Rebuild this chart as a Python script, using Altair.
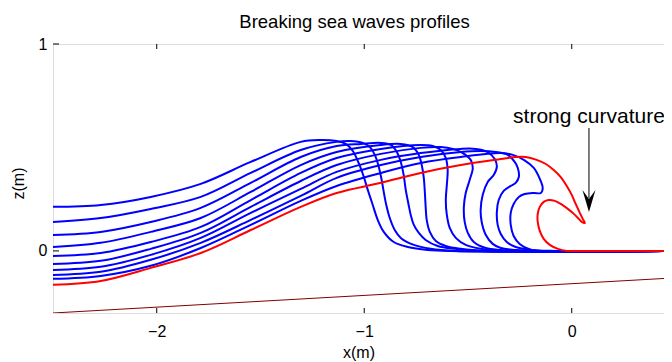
import altair as alt
import pandas as pd

# ---- data (x in m, z in m) ----
b1_x = [-2.5, -2.270, -2.029, -1.788, -1.547, -1.306, -1.210, -1.133, -1.089, -1.055, -1.027, -1.002, -0.983, -0.959, -0.935, -0.906, -0.858, -0.790, -0.694, -0.583, 0.5]
b1_z = [0.213, 0.222, 0.261, 0.324, 0.430, 0.527, 0.536, 0.531, 0.517, 0.483, 0.425, 0.357, 0.295, 0.222, 0.150, 0.092, 0.043, 0.019, 0.005, 0.0, 0.0]

b2_x = [-2.5, -2.270, -2.029, -1.788, -1.547, -1.306, -1.133, -1.065, -1.007, -0.973, -0.949, -0.930, -0.916, -0.906, -0.896, -0.877, -0.853, -0.824, -0.761, -0.680, -0.559, 0.5]
b2_z = [0.140, 0.159, 0.203, 0.261, 0.377, 0.488, 0.527, 0.531, 0.522, 0.502, 0.464, 0.406, 0.343, 0.285, 0.232, 0.159, 0.101, 0.063, 0.029, 0.010, 0.0, 0.0]

b3_x = [-2.5, -2.270, -2.029, -1.788, -1.547, -1.306, -1.133, -1.017, -0.920, -0.872, -0.843, -0.824, -0.810, -0.800, -0.786, -0.776, -0.761, -0.737, -0.704, -0.646, -0.559, -0.439, 0.5]
b3_z = [0.077, 0.092, 0.140, 0.208, 0.329, 0.454, 0.507, 0.517, 0.522, 0.512, 0.478, 0.430, 0.367, 0.295, 0.222, 0.174, 0.126, 0.087, 0.053, 0.024, 0.010, 0.0, 0.0]

b4_x = [-2.5, -2.270, -2.029, -1.788, -1.547, -1.306, -1.133, -0.920, -0.824, -0.766, -0.737, -0.723, -0.713, -0.708, -0.704, -0.699, -0.684, -0.655, -0.607, -0.535, -0.414, 0.5]
b4_z = [0.019, 0.039, 0.092, 0.159, 0.285, 0.415, 0.478, 0.512, 0.517, 0.502, 0.464, 0.415, 0.353, 0.285, 0.213, 0.150, 0.092, 0.048, 0.024, 0.010, 0.0, 0.0]

b5_x = [-2.5, -2.270, -2.029, -1.788, -1.547, -1.306, -1.133, -0.920, -0.728, -0.670, -0.631, -0.607, -0.598, -0.602, -0.607, -0.602, -0.588, -0.559, -0.511, -0.439, -0.318, 0.5]
b5_z = [-0.024, -0.010, 0.043, 0.116, 0.246, 0.377, 0.449, 0.493, 0.512, 0.507, 0.488, 0.449, 0.391, 0.319, 0.246, 0.174, 0.111, 0.063, 0.029, 0.010, 0.0, 0.0]

b6_x = [-2.5, -2.270, -2.029, -1.788, -1.547, -1.306, -1.133, -0.920, -0.728, -0.631, -0.573, -0.525, -0.487, -0.477, -0.492, -0.511, -0.520, -0.516, -0.501, -0.472, -0.414, -0.342, -0.222, 0.5]
b6_z = [-0.063, -0.048, 0.010, 0.087, 0.213, 0.338, 0.415, 0.469, 0.498, 0.502, 0.493, 0.473, 0.440, 0.401, 0.343, 0.280, 0.213, 0.140, 0.087, 0.043, 0.014, 0.005, 0.0, 0.0]

b7_x = [-2.5, -2.270, -2.029, -1.788, -1.547, -1.306, -1.133, -0.920, -0.728, -0.535, -0.463, -0.405, -0.371, -0.361, -0.376, -0.405, -0.429, -0.439, -0.434, -0.414, -0.381, -0.342, -0.270, -0.149, 0.5]
b7_z = [-0.092, -0.077, -0.019, 0.063, 0.184, 0.300, 0.382, 0.440, 0.473, 0.493, 0.493, 0.478, 0.444, 0.406, 0.367, 0.333, 0.271, 0.198, 0.140, 0.077, 0.034, 0.014, 0.005, 0.0, 0.0]

b8_x = [-2.5, -2.270, -2.029, -1.788, -1.547, -1.306, -1.133, -0.920, -0.728, -0.535, -0.439, -0.366, -0.308, -0.275, -0.260, -0.255, -0.270, -0.294, -0.328, -0.352, -0.361, -0.357, -0.342, -0.313, -0.270, -0.198, -0.077, 0.5]
b8_z = [-0.116, -0.101, -0.043, 0.039, 0.150, 0.266, 0.353, 0.415, 0.454, 0.478, 0.483, 0.478, 0.464, 0.430, 0.401, 0.357, 0.329, 0.314, 0.290, 0.246, 0.188, 0.126, 0.082, 0.043, 0.019, 0.005, 0.0, 0.0]

b9_x = [-2.5, -2.270, -2.029, -1.788, -1.547, -1.306, -1.133, -0.920, -0.728, -0.535, -0.342, -0.284, -0.231, -0.183, -0.154, -0.140, -0.149, -0.183, -0.227, -0.255, -0.280, -0.294, -0.294, -0.280, -0.251, -0.207, -0.149, 0.5]
b9_z = [-0.135, -0.121, -0.072, 0.014, 0.126, 0.242, 0.314, 0.377, 0.425, 0.454, 0.473, 0.464, 0.440, 0.401, 0.348, 0.304, 0.280, 0.280, 0.275, 0.261, 0.227, 0.184, 0.126, 0.072, 0.034, 0.010, 0.0, 0.0]

red_x = [-2.5, -2.270, -2.029, -1.788, -1.547, -1.306, -1.133, -0.920, -0.728, -0.535, -0.342, -0.270, -0.222, -0.169, -0.125, -0.087, -0.053, -0.024, 0.0, 0.019, 0.039, 0.053, 0.063, 0.048, 0.034, 0.010, -0.019, -0.053, -0.082, -0.111, -0.135, -0.154, -0.164, -0.164, -0.154, -0.135, -0.106, -0.067, -0.024, 0.034, 0.5]
red_z = [-0.164, -0.145, -0.082, -0.010, 0.101, 0.213, 0.280, 0.329, 0.377, 0.415, 0.444, 0.454, 0.454, 0.440, 0.420, 0.391, 0.357, 0.314, 0.271, 0.227, 0.184, 0.155, 0.135, 0.140, 0.155, 0.179, 0.203, 0.227, 0.242, 0.246, 0.237, 0.213, 0.179, 0.140, 0.097, 0.058, 0.029, 0.010, 0.0, 0.0, 0.0]

bed_x = [-2.5, 0.5]
bed_z = [-0.30, -0.13]

x_ticks = [-2, -1, 0]
y_ticks = [0, 1]

note_text = "strong curvature"
note_x = 0.083
note_z = 0.618
arrow_top = 0.594
arrow_notch = 0.255
arrow_head_center = 0.2415

# ---- tables ----
blue_sets = [b1_x, b1_z], [b2_x, b2_z], [b3_x, b3_z], [b4_x, b4_z], [b5_x, b5_z], \
            [b6_x, b6_z], [b7_x, b7_z], [b8_x, b8_z], [b9_x, b9_z]
rows = []
for k, (xs, zs) in enumerate(blue_sets):
    for i, (xv, zv) in enumerate(zip(xs, zs)):
        rows.append({"curve": f"b{k+1}", "x": xv, "z": zv, "o": i})
blue_df = pd.DataFrame(rows)
red_df = pd.DataFrame({"x": red_x, "z": red_z, "o": list(range(len(red_x)))})
bed_df = pd.DataFrame({"x": bed_x, "z": bed_z})
xt_df = pd.DataFrame({"t": x_ticks})
yt_df = pd.DataFrame({"t": y_ticks})
note_df = pd.DataFrame({"x": [note_x], "z": [note_z], "label": [note_text]})
arrow_df = pd.DataFrame({"x": [note_x], "z": [arrow_top], "z2": [arrow_notch]})
head_df = pd.DataFrame({"x": [note_x], "z": [arrow_head_center]})

# plot area: 611 px wide (page x 53..664), 269 px tall (page y 44..313)
W, H = 611, 269
FONT = "Liberation Sans"
xscale = alt.Scale(domain=[-2.5, 0.4446], nice=False, zero=False)
yscale = alt.Scale(domain=[-0.3, 1.0], nice=False, zero=False)

xaxis = alt.Axis(values=x_ticks, format="d", title="x(m)", ticks=False, grid=False, domain=False,
                 labelFontSize=16, titleFontSize=16, labelPadding=10, titlePadding=5,
                 titleFontWeight="normal", labelFont=FONT, titleFont=FONT,
                 labelColor="black", titleColor="black")
yaxis = alt.Axis(values=y_ticks, format="d", title="z(m)", ticks=False, grid=False, domain=False,
                 labelFontSize=16, titleFontSize=16, labelPadding=6,
                 titleX=-35, titleY=139, titleAngle=270, titleAlign="center",
                 titleBaseline="middle",
                 titleFontWeight="normal", labelFont=FONT, titleFont=FONT,
                 labelColor="black", titleColor="black")

X = alt.X("x:Q", scale=xscale, axis=xaxis)
Y = alt.Y("z:Q", scale=yscale, axis=yaxis)

bed = alt.Chart(bed_df).mark_line(color="#800000", strokeWidth=1, clip=True).encode(x=X, y=Y)

blue = alt.Chart(blue_df).mark_line(color="#0000ff", strokeWidth=2, interpolate="catmull-rom",
                                     clip=True).encode(
    x=X, y=Y, detail="curve:N", order="o:Q")

red = alt.Chart(red_df).mark_line(color="#ff0000", strokeWidth=2, interpolate="catmull-rom",
                                   clip=True).encode(x=X, y=Y, order="o:Q")

xt_bot = alt.Chart(xt_df).mark_rule(color="black", strokeWidth=1).encode(
    x=alt.X("t:Q", scale=xscale), y=alt.value(H - 5), y2=alt.value(H))
xt_top = alt.Chart(xt_df).mark_rule(color="black", strokeWidth=1).encode(
    x=alt.X("t:Q", scale=xscale), y=alt.value(0), y2=alt.value(5))
yt_left = alt.Chart(yt_df).mark_rule(color="black", strokeWidth=1).encode(
    y=alt.Y("t:Q", scale=yscale), x=alt.value(0), x2=alt.value(6))

note = alt.Chart(note_df).mark_text(font=FONT, fontSize=21, color="black", baseline="alphabetic",
                                    align="center").encode(
    x=alt.X("x:Q", scale=xscale), y=alt.Y("z:Q", scale=yscale), text="label:N")
shaft = alt.Chart(arrow_df).mark_rule(color="black", strokeWidth=1).encode(
    x=alt.X("x:Q", scale=xscale), y=alt.Y("z:Q", scale=yscale), y2="z2:Q")
head = alt.Chart(head_df).mark_point(shape="M0,1 L-0.59,-1 L0,-0.18 L0.59,-1 Z", size=484,
                                     filled=True, color="black", opacity=1, strokeWidth=0).encode(
    x=alt.X("x:Q", scale=xscale), y=alt.Y("z:Q", scale=yscale))

chart = alt.layer(bed, blue, red, xt_bot, xt_top, yt_left, shaft, head, note).properties(
    width=W, height=H,
    title=alt.TitleParams("Breaking sea waves profiles", font=FONT, fontSize=18.5,
                          fontWeight="normal", color="black", offset=5, dx=-4),
    autosize=alt.AutoSizeParams(type="none"),
    padding={"left": 45, "top": 36, "right": 0, "bottom": 49},
).configure_view(stroke="black", strokeWidth=1).configure(background="white")

chart.save("out.html", embed_options={"renderer": "svg", "actions": False})
